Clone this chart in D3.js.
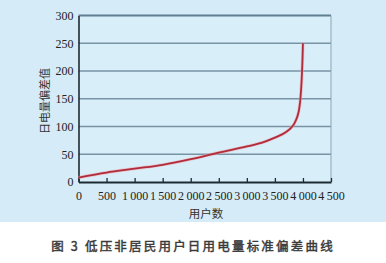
<!DOCTYPE html>
<html><head><meta charset="utf-8">
<script src="https://cdn.jsdelivr.net/npm/d3@7"></script>
<style>body{margin:0;background:#fff;}svg{display:block;} .serif text{font-family:"Liberation Serif","DejaVu Serif",serif !important;}</style>
</head><body>
<svg id="c" width="386" height="263"></svg>
<script>
const users = [0,500,1000,1500,2000,2500,3000,3300,3500,3700,3800,3850,3900,3930,3955,3975,3990,4000];
const deviation = [8,17,24,31,41,53,64,72,80,90,99,106,118,130,150,180,215,250];
const xTicks = [0,500,1000,1500,2000,2500,3000,3500,4000,4500];
const yTicks = [0,50,100,150,200,250,300];
const xTitle = "用户数";
const yTitle = "日电量偏差值";
const caption = "图 3 低压非居民用户日用电量标准偏差曲线";

const svg = d3.select("#c");
svg.append("rect").attr("x",0).attr("y",0).attr("width",386).attr("height",222).attr("fill","#d5ebf7");

const x = d3.scaleLinear().domain([0,4500]).range([78.5,331]);
const y = d3.scaleLinear().domain([0,300]).range([182,15.5]);

svg.append("rect").attr("x",x(0)).attr("y",y(300)).attr("width",x(4500)-x(0)).attr("height",y(0)-y(300)).attr("fill","#d8eef9");

svg.append("g").selectAll("line").data(yTicks.filter(d=>d>0)).join("line")
  .attr("x1",x(0)).attr("x2",x(4500)).attr("y1",d=>y(d)).attr("y2",d=>y(d))
  .attr("stroke",d=>d===300?"#5f7f90":"#7893a3").attr("stroke-width",d=>d===300?2:1.3);
svg.append("line").attr("x1",x(4500)).attr("x2",x(4500)).attr("y1",y(300)).attr("y2",y(0)).attr("stroke","#8fa6b3").attr("stroke-width",1);

const fmt = d => d>=1000 ? String(Math.floor(d/1000))+"\u2009"+String(d%1000).padStart(3,"0") : String(d);

const xAxis = svg.append("g").attr("class","serif").attr("transform",`translate(0,${y(0)})`)
  .call(d3.axisBottom(x).tickValues(xTicks).tickFormat(fmt).tickSizeInner(-4).tickSizeOuter(0).tickPadding(9));
xAxis.attr("font-family",null);
xAxis.select(".domain").attr("stroke","#1d2a33").attr("stroke-width",2);
xAxis.selectAll(".tick line").attr("stroke","#1d2a33").attr("stroke-width",1.3);
xAxis.selectAll("text").attr("font-size",12).attr("fill","#222");

const yAxis = svg.append("g").attr("class","serif").attr("transform",`translate(${x(0)},0)`)
  .call(d3.axisLeft(y).tickValues(yTicks).tickSize(0).tickPadding(5));
yAxis.attr("font-family",null);
yAxis.select(".domain").attr("stroke","#1d2a33").attr("stroke-width",1.6);
yAxis.selectAll("text").attr("font-size",12).attr("fill","#222");

const line = d3.line().x((d,i)=>x(users[i])).y(d=>y(d)).curve(d3.curveMonotoneX);
svg.append("path").datum(deviation).attr("d",line).attr("fill","none")
  .attr("stroke","#f0a0a8").attr("stroke-width",3.2).attr("opacity",0.6);
svg.append("path").datum(deviation).attr("d",line).attr("fill","none")
  .attr("stroke","#b02c3a").attr("stroke-width",1.8);

svg.append("text").attr("x",206).attr("y",218).attr("text-anchor","middle")
  .attr("font-family","'Noto Sans CJK SC',sans-serif").attr("font-size",11.5).attr("fill","#333").text(xTitle);
svg.append("text").attr("transform",`translate(49,101) rotate(-90)`).attr("text-anchor","middle")
  .attr("font-family","'Noto Sans CJK SC',serif").attr("font-size",11).attr("fill","#333").text(yTitle);

svg.append("text").attr("x",193).attr("y",251).attr("text-anchor","middle")
  .attr("font-family","'Noto Sans CJK SC',sans-serif").attr("font-weight","normal").attr("font-size",12.5)
  .attr("fill","#3a3a3a").attr("stroke","#3a3a3a").attr("stroke-width",0.45).attr("letter-spacing",2.2).text(caption);
</script>
</body></html>
